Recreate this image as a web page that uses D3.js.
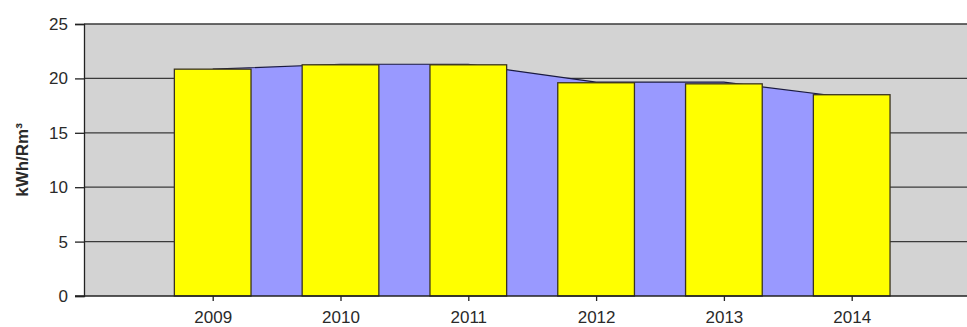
<!DOCTYPE html>
<html>
<head>
<meta charset="utf-8">
<script src="https://cdn.jsdelivr.net/npm/d3@7"></script>
<style>
  html, body { margin: 0; padding: 0; background: #fff; }
  svg { display: block; }
  text { font-family: Arial, "Liberation Sans", sans-serif; fill: #2a2a2a; }
</style>
</head>
<body>
<svg id="chart" width="967" height="327"></svg>
<script>
// Yearly specific energy use, kWh per Rm³
const years = ["2009", "2010", "2011", "2012", "2013", "2014"];
const barValues = [20.85, 21.25, 21.25, 19.6, 19.5, 18.5];
const areaValues = [20.85, 21.3, 21.3, 19.65, 19.65, 18.2];
const yTicks = [0, 5, 10, 15, 20, 25];
const yTitle = "kWh/Rm³";

const svg = d3.select("#chart");
const plot = { left: 84, top: 24, right: 967, bottom: 296 };
const FONT = "Arial, 'Liberation Sans', sans-serif";

const y = d3.scaleLinear().domain([0, 25]).range([plot.bottom, plot.top]);
const x = d3.scalePoint().domain(years).range([212.7, 851.7]);
const barW = x.step() * 0.6;

// plot background
svg.append("rect")
  .attr("x", plot.left).attr("y", plot.top)
  .attr("width", plot.right - plot.left).attr("height", plot.bottom - plot.top)
  .attr("fill", "#d3d3d3");

// horizontal gridlines
svg.append("g").selectAll("line")
  .data(yTicks.filter(d => d > 0))
  .join("line")
  .attr("x1", plot.left).attr("x2", plot.right)
  .attr("y1", d => y(d)).attr("y2", d => y(d))
  .attr("stroke", "#3a3a3a").attr("stroke-width", 1.3);

// background area series
const area = d3.area()
  .x((d, i) => x(years[i]))
  .y0(y(0))
  .y1(d => y(d));
const line = d3.line()
  .x((d, i) => x(years[i]))
  .y(d => y(d));

svg.append("path")
  .datum(areaValues)
  .attr("d", area)
  .attr("fill", "#9999ff");
svg.append("path")
  .datum(areaValues)
  .attr("d", line)
  .attr("fill", "none")
  .attr("stroke", "#1a1a40")
  .attr("stroke-width", 1.2);

// bars
svg.append("g").selectAll("rect")
  .data(barValues)
  .join("rect")
  .attr("x", (d, i) => x(years[i]) - barW / 2)
  .attr("y", d => y(d))
  .attr("width", barW)
  .attr("height", d => y(0) - y(d))
  .attr("fill", "#ffff00")
  .attr("stroke", "#3a3320")
  .attr("stroke-width", 1.3);

// y axis
const yAxis = svg.append("g")
  .attr("transform", `translate(${plot.left},0)`)
  .call(d3.axisLeft(y).tickValues(yTicks).tickSize(9).tickPadding(7));
yAxis.select(".domain").attr("stroke", "#222").attr("stroke-width", 1.3);
yAxis.selectAll(".tick line").attr("stroke", "#222").attr("stroke-width", 1.3);
yAxis.selectAll(".tick text")
  .attr("font-size", 17)
  .attr("font-family", FONT)
  .attr("fill", "#2a2a2a");

// x axis
const xAxis = svg.append("g")
  .attr("transform", `translate(0,${plot.bottom})`)
  .call(d3.axisBottom(x).tickSize(5).tickPadding(10));
xAxis.select(".domain").remove();
svg.append("line")
  .attr("x1", plot.left - 9).attr("x2", plot.right)
  .attr("y1", plot.bottom).attr("y2", plot.bottom)
  .attr("stroke", "#222").attr("stroke-width", 1.3);
xAxis.selectAll(".tick line").attr("stroke", "#222").attr("stroke-width", 1.3);
xAxis.selectAll(".tick text")
  .attr("font-size", 17)
  .attr("font-family", FONT)
  .attr("fill", "#2a2a2a");

// y axis title
svg.append("text")
  .attr("transform", "translate(28,160) rotate(-90)")
  .attr("text-anchor", "middle")
  .attr("font-size", 17)
  .attr("font-weight", "bold")
  .attr("font-family", FONT)
  .text(yTitle);
</script>
</body>
</html>
